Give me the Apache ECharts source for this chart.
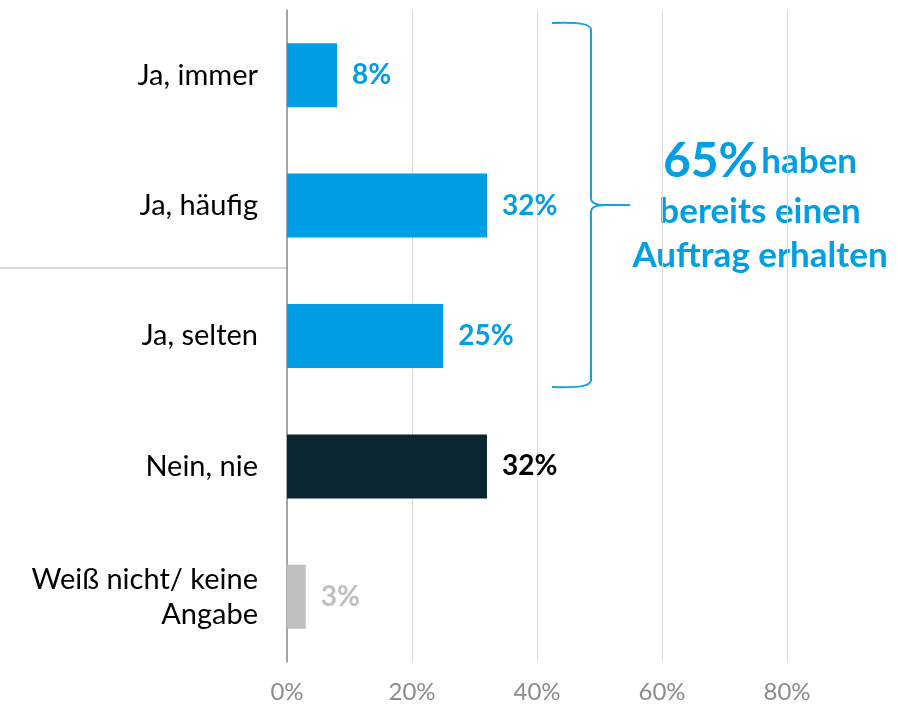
<!DOCTYPE html>
<html><head><meta charset="utf-8">
<script src="https://cdn.jsdelivr.net/npm/echarts@6/dist/echarts.min.js"></script>
<style>html,body{margin:0;padding:0;background:#fff}#c{width:899px;height:705px}</style>
</head><body><div id="c"></div>
<script>
var categories = ["Ja, immer", "Ja, häufig", "Ja, selten", "Nein, nie", "Weiß nicht/ keine\nAngabe"];
var values = [8, 32, 25, 32, 3];
var barColors = ["#009FE3", "#009FE3", "#009FE3", "#0A2630", "#BFBFBF"];
var labelColors = ["#009FE3", "#009FE3", "#009FE3", "#000000", "#BFBFBF"];

var FONT = "Lato, 'Open Sans', sans-serif";
var BLUE = '#1A9FE0';
var bs = {stroke: BLUE, lineWidth: 2, fill: 'none'};
var chart = echarts.init(document.getElementById('c'));
chart.setOption({
  animation: false,
  grid: {left: 287, top: 10, width: 625, height: 652, outerBoundsMode: 'none', containLabel: false},
  xAxis: {
    type: 'value', min: 0, max: 100, interval: 20,
    axisLine: {show: false}, axisTick: {show: false},
    splitLine: {lineStyle: {color: '#d9d9d9', width: 1}},
    axisLabel: {formatter: function (v) { return v >= 100 ? '' : v + '%'; },
      color: '#8c8c8c', fontSize: 24, fontFamily: FONT, margin: 18}
  },
  yAxis: {
    type: 'category', inverse: true, data: categories,
    axisLine: {lineStyle: {color: '#8c8c8c', width: 1.5}},
    axisTick: {show: false},
    axisLabel: {color: '#000', fontSize: 29, fontFamily: FONT, margin: 29, align: 'right', lineHeight: 35}
  },
  series: [{
    type: 'bar', barWidth: 64,
    data: values.map(function (v, i) {
      return {value: v, itemStyle: {color: barColors[i]},
        label: {color: labelColors[i]}};
    }),
    label: {show: true, position: 'right', distance: 15, formatter: '{c}%',
      fontSize: 28, fontWeight: 'bold', fontFamily: FONT}
  }],
  graphic: [
    {type: 'line', shape: {x1: 0, y1: 268, x2: 287, y2: 268}, style: {stroke: '#cccccc', lineWidth: 1.5}},
    {type: 'bezierCurve', shape: {x1: 552, y1: 23, cpx1: 580, cpy1: 22, cpx2: 591, cpy2: 24, x2: 591, y2: 30}, style: bs},
    {type: 'line', shape: {x1: 591, y1: 30, x2: 591, y2: 198}, style: bs},
    {type: 'bezierCurve', shape: {x1: 591, y1: 198, cpx1: 591, cpy1: 204, cpx2: 598, cpy2: 205, x2: 605, y2: 205}, style: bs},
    {type: 'line', shape: {x1: 605, y1: 205, x2: 630, y2: 205}, style: bs},
    {type: 'bezierCurve', shape: {x1: 605, y1: 205, cpx1: 598, cpy1: 205, cpx2: 591, cpy2: 206, x2: 591, y2: 212}, style: bs},
    {type: 'line', shape: {x1: 591, y1: 212, x2: 591, y2: 380}, style: bs},
    {type: 'bezierCurve', shape: {x1: 591, y1: 380, cpx1: 591, cpy1: 386, cpx2: 580, cpy2: 388, x2: 552, y2: 387}, style: bs},
    {type: 'text', style: {
      text: '{a|65%} {b|haben}', x: 760, y: 162, align: 'center', verticalAlign: 'middle',
      rich: {a: {fontSize: 48, fontWeight: 'bold', fill: '#009FE3', fontFamily: FONT},
             b: {fontSize: 35, fontWeight: 'bold', fill: '#009FE3', fontFamily: FONT}}}},
    {type: 'text', style: {text: 'bereits einen', x: 760, y: 212, align: 'center', verticalAlign: 'middle',
      fontSize: 35, fontWeight: 'bold', fill: '#009FE3', fontFamily: FONT}},
    {type: 'text', style: {text: 'Auftrag erhalten', x: 760, y: 256, align: 'center', verticalAlign: 'middle',
      fontSize: 35, fontWeight: 'bold', fill: '#009FE3', fontFamily: FONT}}
  ]
});
</script></body></html>
